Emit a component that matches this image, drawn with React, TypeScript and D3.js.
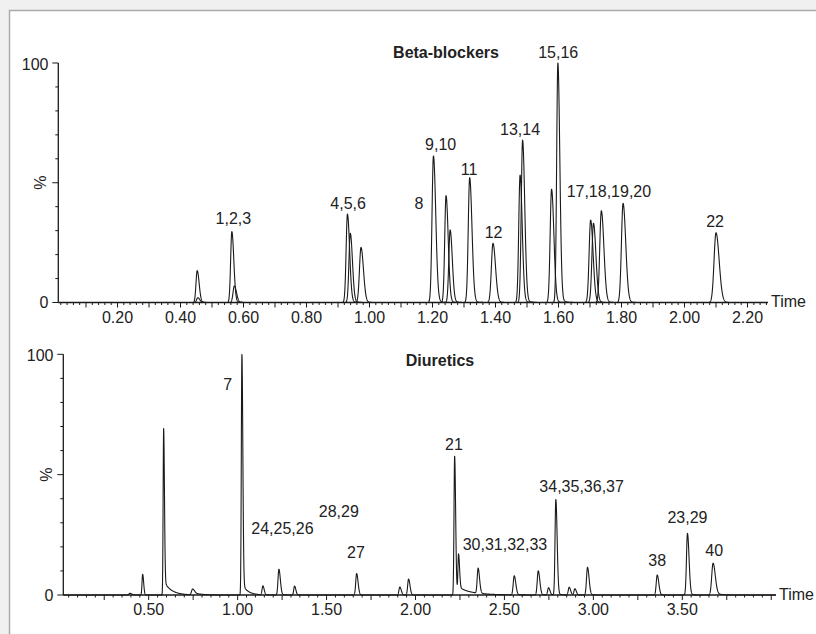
import React from "react";
import * as d3 from "d3";

// ---------- Data ----------
// Beta-blockers panel: retention time (min), relative intensity (%), peak sigma (min)
const BB_TIMES = [0.453, 0.455, 0.563, 0.571, 0.930, 0.939, 0.973, 1.203, 1.243, 1.256, 1.318, 1.392, 1.478, 1.486, 1.578, 1.598, 1.702, 1.711, 1.736, 1.805, 2.100];
const BB_HEIGHTS = [13.3, 2.0, 29.6, 6.9, 36.9, 28.9, 23.0, 61.2, 44.6, 30.3, 52.1, 24.7, 53.2, 67.8, 47.3, 100, 34.4, 33.1, 38.3, 41.4, 29.1];
const BB_SIGMAS = [0.0038, 0.0038, 0.0038, 0.0042, 0.0042, 0.0042, 0.0048, 0.0045, 0.0042, 0.0042, 0.0045, 0.005, 0.0042, 0.0042, 0.0045, 0.0038, 0.0048, 0.0048, 0.005, 0.0052, 0.0062];

const BB_LABELS = ["1,2,3", "4,5,6", "8", "9,10", "11", "12", "13,14", "15,16", "17,18,19,20", "22"];
const BB_LABEL_TIMES = [0.568, 0.932, 1.157, 1.226, 1.316, 1.394, 1.478, 1.599, 1.760, 2.097];
const BB_LABEL_LEVELS = [32.8, 39.0, 38.9, 63.7, 53.2, 27.1, 69.9, 102, 44.2, 31.4];

// Diuretics panel
const DI_TIMES = [0.395, 0.466, 0.584, 0.747, 1.024, 1.142, 1.232, 1.320, 1.669, 1.912, 1.961, 2.220, 2.242, 2.352, 2.555, 2.690, 2.748, 2.789, 2.864, 2.896, 2.967, 3.359, 3.529, 3.673];
const DI_HEIGHTS = [0.7, 8.6, 69.2, 2.4, 100, 3.7, 10.7, 3.7, 8.9, 3.3, 6.6, 57.7, 16.6, 10.4, 7.9, 10.0, 3.0, 39.7, 3.2, 2.6, 11.5, 8.3, 25.6, 13.2];
const DI_SIGMAS = [0.006, 0.0035, 0.0028, 0.006, 0.0032, 0.0045, 0.005, 0.0045, 0.005, 0.005, 0.005, 0.0035, 0.0035, 0.005, 0.0055, 0.0055, 0.005, 0.0045, 0.005, 0.005, 0.0055, 0.0055, 0.0055, 0.0075];
const DI_TAIL_AMPS = [0, 0, 6, 1, 5, 0, 0.5, 0, 0.3, 0, 0, 1.5, 3, 0.4, 0.3, 0.3, 0, 1.2, 0, 0, 0.4, 0.3, 0.8, 1.5];
const DI_TAIL_TAUS = [0.02, 0.02, 0.04, 0.04, 0.03, 0.02, 0.015, 0.02, 0.015, 0.02, 0.02, 0.02, 0.08, 0.015, 0.015, 0.015, 0.02, 0.015, 0.02, 0.02, 0.015, 0.015, 0.015, 0.025];

const DI_LABELS = ["7", "24,25,26", "28,29", "27", "21", "30,31,32,33", "34,35,36,37", "38", "23,29", "40"];
const DI_LABEL_TIMES = [0.944, 1.252, 1.569, 1.665, 2.216, 2.503, 2.934, 3.359, 3.529, 3.679];
const DI_LABEL_LEVELS = [85.1, 25.3, 32.2, 15.2, 60.2, 18.7, 42.9, 12.0, 30.0, 16.3];

const BB_TICK_LABELS = ["0.20", "0.40", "0.60", "0.80", "1.00", "1.20", "1.40", "1.60", "1.80", "2.00", "2.20"];
const DI_TICK_LABELS = ["0.50", "1.00", "1.50", "2.00", "2.50", "3.00", "3.50"];

const FONT = "'Liberation Sans', Arial, Helvetica, sans-serif";
const INK = "#1a1a1a";

function peakValue(t: number, t0: number, h: number, s: number, tailA: number, tau: number) {
  const d = t - t0;
  const sR = s * 1.6;
  const g = d < 0 ? Math.exp(-0.5 * (d / s) ** 2) : Math.exp(-0.5 * (d / sR) ** 2);
  let tail = 0;
  if (tailA > 0 && d > 0) {
    tail = tailA * Math.exp(-d / tau) * (1 - Math.exp(-0.5 * (d / sR) ** 2));
  }
  return h * g + tail;
}

type PanelProps = {
  x: d3.ScaleLinear<number, number>;
  y: d3.ScaleLinear<number, number>;
  axisX0: number;
  axisX1: number;
  minorStep: number;
  majorStep: number;
  tickStart: number;
  tickEnd: number;
  tickLabels: string[];
  yLabelRight: number;
  pctX: number;
  title: string;
  titleX: number;
  titleY: number;
};

function Axes(p: PanelProps) {
  const { x, y } = p;
  const y0 = y(0);
  const ticks: { v: number; major: boolean }[] = [];
  const n = Math.round((p.tickEnd - p.tickStart) / p.minorStep);
  for (let i = 0; i <= n; i++) {
    const v = +(p.tickStart + i * p.minorStep).toFixed(4);
    const r = v / p.majorStep;
    ticks.push({ v, major: Math.abs(r - Math.round(r)) < 1e-6 });
  }
  const yTicks = d3.range(0, 101, 10);
  return (
    <g>
      <line x1={p.axisX0} x2={p.axisX1} y1={y0} y2={y0} stroke={INK} strokeWidth={1.3} />
      <line x1={p.axisX0} x2={p.axisX0} y1={y(100)} y2={y0} stroke={INK} strokeWidth={1.3} />
      {ticks.map((t, i) => (
        <line key={i} x1={x(t.v)} x2={x(t.v)} y1={y0} y2={y0 + (t.major ? 5 : 2.5)} stroke={INK} strokeWidth={1} />
      ))}
      {yTicks.map((v) => (
        <line key={v} x1={p.axisX0 - (v % 50 === 0 ? 6 : 3)} x2={p.axisX0} y1={y(v)} y2={y(v)} stroke={INK} strokeWidth={1} />
      ))}
      {p.tickLabels.map((l) => (
        <text key={l} x={x(+l)} y={y0 + 20} textAnchor="middle" fontSize={16} fontFamily={FONT} fill="#222">{l}</text>
      ))}
      <text x={p.axisX1 + 3} y={y0 + 4.5} fontSize={16} fontFamily={FONT} fill="#222">Time</text>
      <text x={p.yLabelRight} y={y(100) + 6.5} textAnchor="end" fontSize={16} fontFamily={FONT} fill="#222">100</text>
      <text x={p.yLabelRight} y={y0 + 5.8} textAnchor="end" fontSize={16} fontFamily={FONT} fill="#222">0</text>
      <text transform={`translate(${p.pctX},${y(50)}) rotate(-90)`} textAnchor="middle" dy={6} fontSize={16} fontFamily={FONT} fill="#222">%</text>
      <text x={p.titleX} y={p.titleY} textAnchor="middle" fontSize={16} fontWeight="bold" fontFamily={FONT} fill="#222">{p.title}</text>
    </g>
  );
}

export default function App() {
  // Beta-blockers scales
  const xTop = d3.scaleLinear().domain([0, 2.2]).range([54.5, 54.5 + 315 * 2.2]);
  const yTop = d3.scaleLinear().domain([0, 100]).range([302.5, 63]);
  // Diuretics scales
  const xBot = d3.scaleLinear().domain([0.5, 3.5]).range([148.7, 682.3]);
  const yBot = d3.scaleLinear().domain([0, 100]).range([595, 354.3]);

  const lineTop = d3.line<[number, number]>().x((d) => xTop(d[0])).y((d) => yTop(d[1]));
  const lineBot = d3.line<[number, number]>().x((d) => xBot(d[0])).y((d) => yBot(d[1]));

  const topPaths = BB_TIMES.map((t0, i) => {
    const s = BB_SIGMAS[i];
    const h = BB_HEIGHTS[i];
    const pts: [number, number][] = [];
    const a = t0 - 6 * s;
    const b = t0 + 14 * s + 0.03;
    for (let t = a; t <= b; t += 0.0004) {
      pts.push([t, peakValue(t, t0, h, s, h * 0.04, 0.01)]);
    }
    return lineTop(pts) || "";
  });

  const botPts: [number, number][] = [];
  const tStart = xBot.invert(63.3);
  const tEnd = xBot.invert(776);
  for (let t = tStart; t <= tEnd; t += 0.0004) {
    let v = 0;
    for (let i = 0; i < DI_TIMES.length; i++) {
      const d = t - DI_TIMES[i];
      if (d < -0.06 || d > 0.6) continue;
      v += peakValue(t, DI_TIMES[i], DI_HEIGHTS[i], DI_SIGMAS[i], DI_TAIL_AMPS[i], DI_TAIL_TAUS[i]);
    }
    botPts.push([t, v]);
  }
  const botPath = lineBot(botPts) || "";

  return (
    <svg width={816} height={634} style={{ position: "absolute", left: 0, top: 0 }} xmlns="http://www.w3.org/2000/svg">
      <rect x={0} y={0} width={816} height={634} fill="#f0f0f0" />
      <rect x={9.5} y={10.5} width={900} height={700} fill="#ffffff" stroke="#aaaaaa" strokeWidth={1.5} />

      {topPaths.map((d, i) => (
        <path key={i} d={d} fill="none" stroke={INK} strokeWidth={1.1} strokeLinejoin="round" />
      ))}
      <Axes x={xTop} y={yTop} axisX0={58.3} axisX1={768} minorStep={0.02} majorStep={0.1} tickStart={0.02} tickEnd={2.26}
        tickLabels={BB_TICK_LABELS} yLabelRight={48.5} pctX={40} title="Beta-blockers" titleX={446} titleY={58} />
      {BB_LABELS.map((l, i) => (
        <text key={l} x={xTop(BB_LABEL_TIMES[i])} y={yTop(BB_LABEL_LEVELS[i])} textAnchor="middle" fontSize={16} fontFamily={FONT} fill="#222">{l}</text>
      ))}

      <path d={botPath} fill="none" stroke={INK} strokeWidth={1.1} strokeLinejoin="round" />
      <Axes x={xBot} y={yBot} axisX0={63.3} axisX1={776} minorStep={0.05} majorStep={0.25} tickStart={0.05} tickEnd={4.0}
        tickLabels={DI_TICK_LABELS} yLabelRight={53.5} pctX={45.5} title="Diuretics" titleX={440} titleY={366} />
      {DI_LABELS.map((l, i) => (
        <text key={l} x={xBot(DI_LABEL_TIMES[i])} y={yBot(DI_LABEL_LEVELS[i])} textAnchor="middle" fontSize={16} fontFamily={FONT} fill="#222">{l}</text>
      ))}
    </svg>
  );
}
